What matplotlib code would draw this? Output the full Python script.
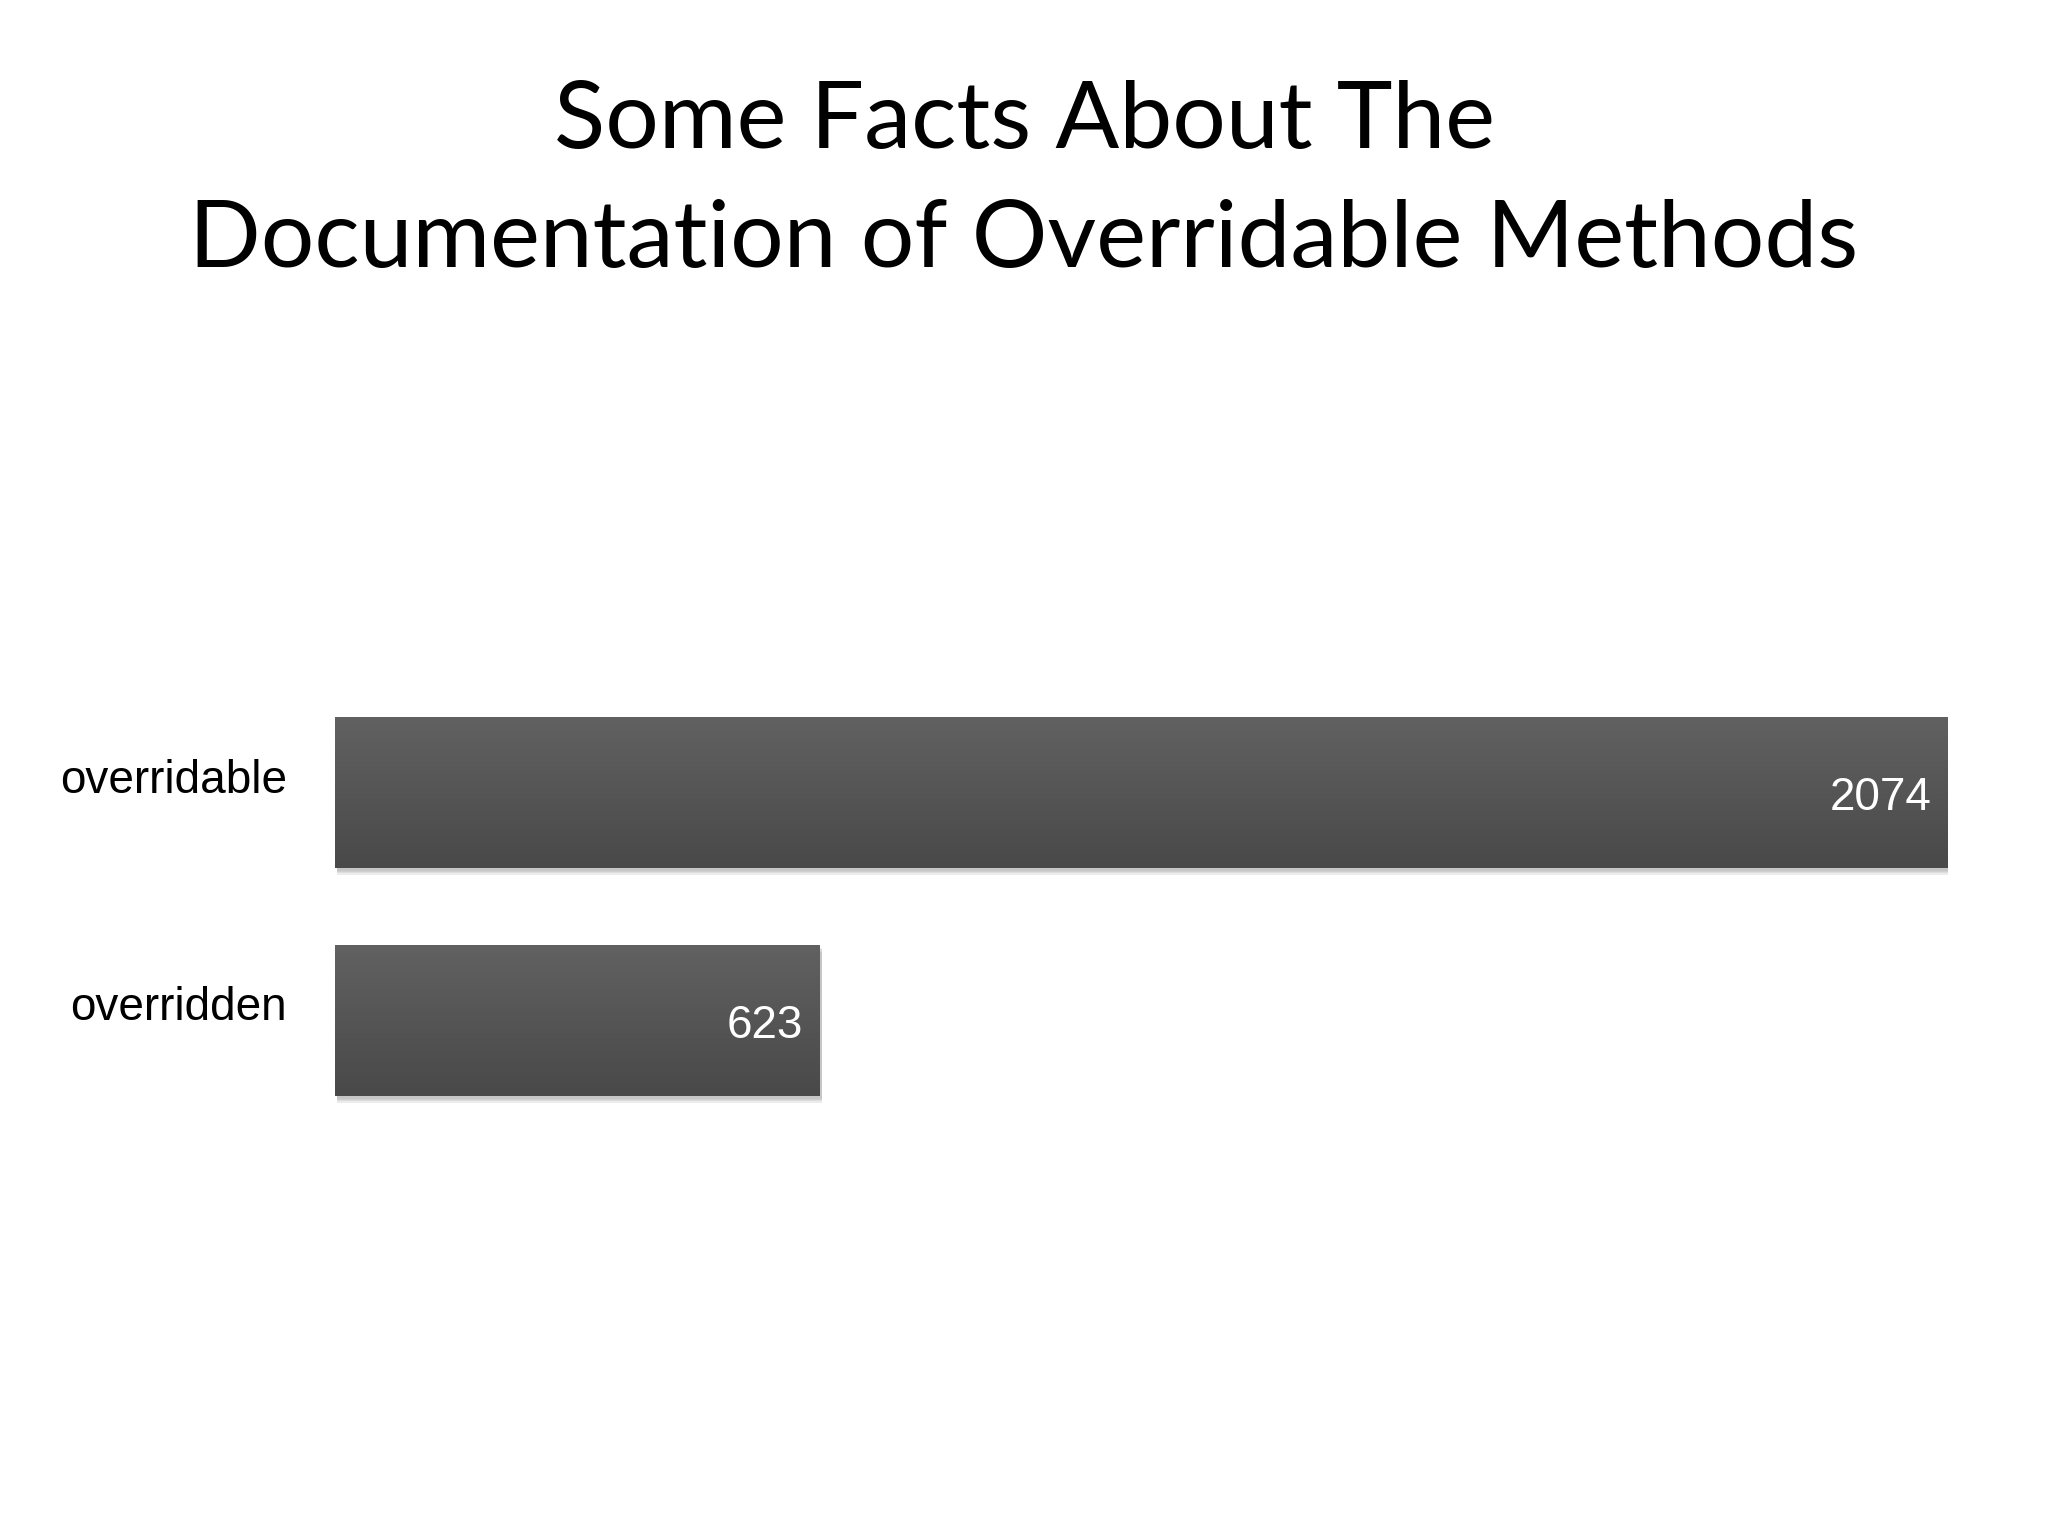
import numpy as np
import matplotlib
matplotlib.use("Agg")
import matplotlib.pyplot as plt
import matplotlib.patheffects as pe

# data
categories = ["overridden", "overridable"]
counts = [623, 2074]
title_lines = ["Some Facts About The", "Documentation of Overridable Methods"]

fig = plt.figure(figsize=(20.48, 15.36), dpi=100)
fig.patch.set_facecolor("white")

# axes placed so bars land where they are on the slide
ax = fig.add_axes([335/2048, 1 - 1300/1536, (1948-335)/2048, 800/1536])
ax.set_xlim(0, 2074)
ax.set_ylim(-1.226, 2.283)
ax.axis("off")

ypos = np.arange(len(categories))
# soft drop shadow: a few stacked, faint offsets
shadow = [pe.SimplePatchShadow(offset=(1.5, -o), shadow_rgbFace="#999999", alpha=0.18)
          for o in (5, 4, 3, 2)]
bars = ax.barh(ypos, counts, height=0.66, color="#555555", edgecolor="none",
               path_effects=shadow + [pe.Normal()])

# vertical grey gradient inside each bar
cmap = matplotlib.colors.LinearSegmentedColormap.from_list("g", ["#494949", "#616161"])
grad = np.linspace(0, 1, 256).reshape(-1, 1)
for b in bars:
    x0, y0 = b.get_x(), b.get_y()
    w, h = b.get_width(), b.get_height()
    im = ax.imshow(grad, extent=[x0, x0 + w, y0, y0 + h], origin="lower",
                   cmap=cmap, aspect="auto", zorder=3, interpolation="bicubic")
    im.set_clip_path(b)

for y, name, v in zip(ypos, categories, counts):
    ax.text(-62, y, name, ha="right", va="baseline", fontsize=33,
            family="Liberation Sans", color="black")
    ax.annotate(str(v), xy=(v, y), xytext=(-12, -12.3), textcoords="offset points",
                ha="right", va="baseline", fontsize=33, family="Liberation Sans",
                color="white", zorder=5)

fig.text(0.5, 1 - 148/1536, title_lines[0], ha="center", va="baseline",
         fontsize=68, family="Lato", color="black")
fig.text(0.5, 1 - 267/1536, title_lines[1], ha="center", va="baseline",
         fontsize=68, family="Lato", color="black")

fig.savefig("out.png", dpi=100, facecolor="white")
